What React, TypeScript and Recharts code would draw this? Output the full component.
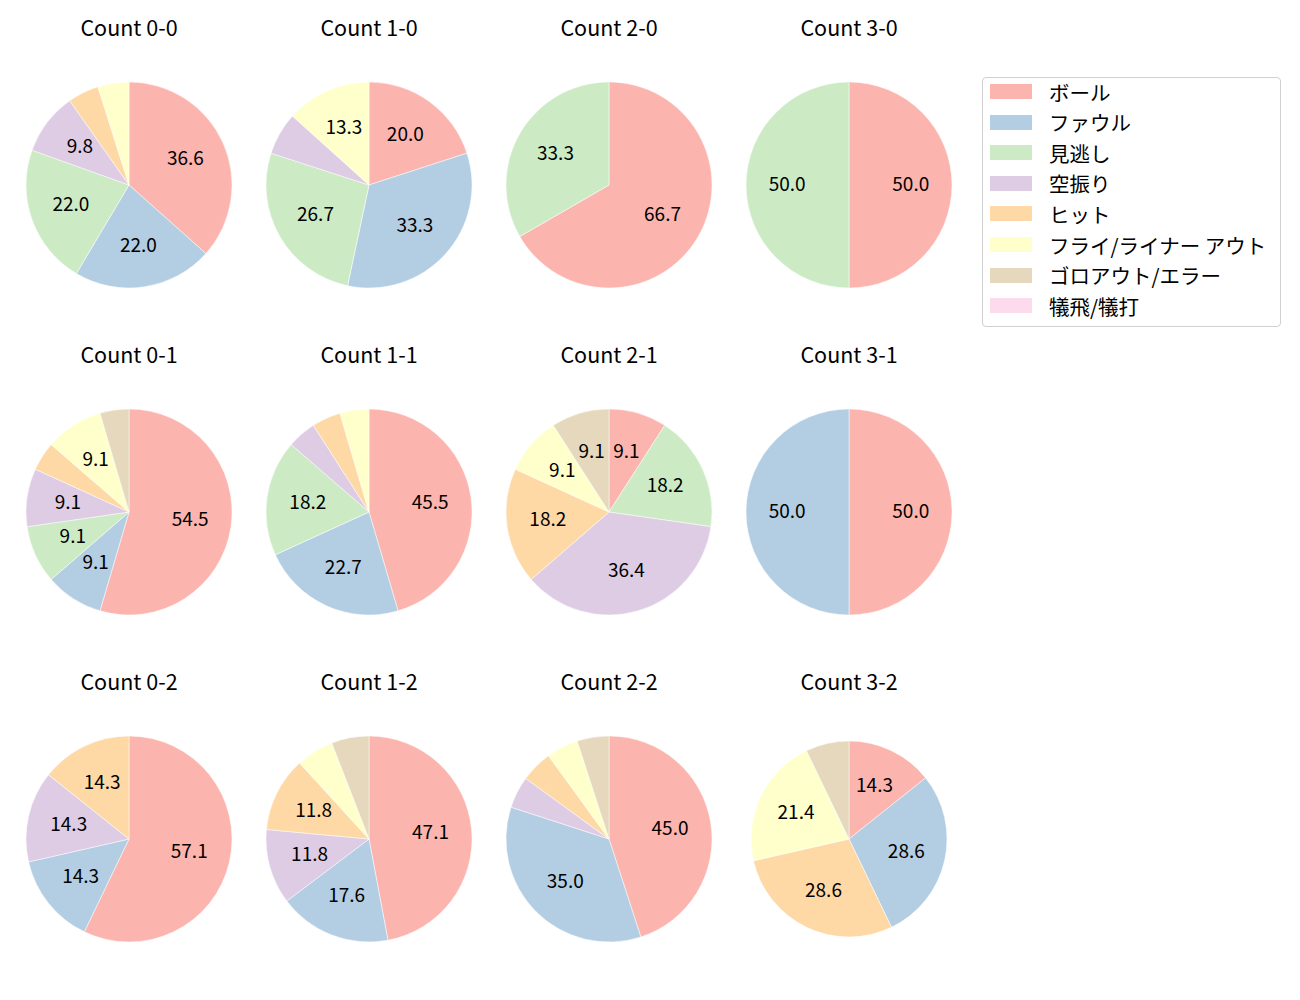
import React from 'react';
import { PieChart, Pie, Cell } from 'recharts';

const CATEGORIES = ['ボール', 'ファウル', '見逃し', '空振り', 'ヒット', 'フライ/ライナー アウト', 'ゴロアウト/エラー', '犠飛/犠打'];
const COLORS = ['#fbb4ae', '#b3cde3', '#ccebc5', '#decbe4', '#fed9a6', '#ffffcc', '#e5d8bd', '#fddaec'];

const TITLES = [
    'Count 0-0', 'Count 1-0', 'Count 2-0', 'Count 3-0',
    'Count 0-1', 'Count 1-1', 'Count 2-1', 'Count 3-1',
    'Count 0-2', 'Count 1-2', 'Count 2-2', 'Count 3-2',
];

// counts per category, same order as CATEGORIES
const count00 = [15, 9, 9, 4, 2, 2, 0, 0];
const count10 = [3, 5, 4, 1, 0, 2, 0, 0];
const count20 = [2, 0, 1, 0, 0, 0, 0, 0];
const count30 = [1, 0, 1, 0, 0, 0, 0, 0];
const count01 = [12, 2, 2, 2, 1, 2, 1, 0];
const count11 = [10, 5, 4, 1, 1, 1, 0, 0];
const count21 = [1, 0, 2, 4, 2, 1, 1, 0];
const count31 = [1, 1, 0, 0, 0, 0, 0, 0];
const count02 = [4, 1, 0, 1, 1, 0, 0, 0];
const count12 = [8, 3, 0, 2, 2, 1, 1, 0];
const count22 = [9, 7, 0, 1, 1, 1, 1, 0];
const count32 = [2, 4, 0, 0, 4, 3, 1, 0];

const SERIES = [count00, count10, count20, count30, count01, count11, count21, count31, count02, count12, count22, count32];

const FONT = '"Noto Sans CJK JP", "Noto Sans", sans-serif';
const COL_X = [129, 369, 609, 849];
const ROW_Y = [185, 512, 839];
const RADIUS = 103;
const RAD = Math.PI / 180;

const makeLabel = (total: number) => (props: any) => {
    const { cx, cy, midAngle, outerRadius, value } = props;
    const pct = (value / total) * 100;
    if (pct < 8) return null;
    const r = outerRadius * 0.6;
    const x = cx + r * Math.cos(-midAngle * RAD);
    const y = cy + r * Math.sin(-midAngle * RAD) - 3;
    return (
        <text x={x} y={y} fill="#000" fontSize={19} fontFamily={FONT} textAnchor="middle" dominantBaseline="central">
            {pct.toFixed(1)}
        </text>
    );
};

export default function App() {
    return (
        <div style={{ position: 'absolute', left: 0, top: 0, width: 1300, height: 1000, background: '#fff', fontFamily: FONT }}>
            <PieChart width={1300} height={1000} margin={{ top: 0, right: 0, bottom: 0, left: 0 }}>
                {SERIES.map((counts, i) => {
                    const data = counts
                        .map((v, k) => ({ name: CATEGORIES[k], value: v, color: COLORS[k] }))
                        .filter((d) => d.value > 0);
                    const total = counts.reduce((a, b) => a + b, 0);
                    return (
                        <Pie
                            key={TITLES[i]}
                            data={data}
                            dataKey="value"
                            nameKey="name"
                            cx={COL_X[i % 4]}
                            cy={ROW_Y[Math.floor(i / 4)]}
                            outerRadius={i === 11 ? 98 : RADIUS}
                            startAngle={90}
                            endAngle={-270}
                            stroke="#ffffff"
                            strokeWidth={0.5}
                            labelLine={false}
                            label={makeLabel(total)}
                            isAnimationActive={false}
                        >
                            {data.map((d) => (
                                <Cell key={d.name} fill={d.color} />
                            ))}
                        </Pie>
                    );
                })}
            </PieChart>
            {TITLES.map((t, i) => (
                <div
                    key={t}
                    style={{
                        position: 'absolute',
                        left: COL_X[i % 4] - 100,
                        top: ROW_Y[Math.floor(i / 4)] - 158 - 14,
                        width: 200,
                        height: 28,
                        lineHeight: '28px',
                        textAlign: 'center',
                        fontSize: 21.5,
                        color: '#000',
                    }}
                >
                    {t}
                </div>
            ))}
            <div
                style={{
                    position: 'absolute',
                    left: 982,
                    top: 77,
                    width: 297,
                    height: 248,
                    border: '1px solid #d0d0d0',
                    borderRadius: 4,
                }}
            >
                {CATEGORIES.map((c, k) => (
                    <div key={c} style={{ position: 'absolute', left: 0, top: 13.5 + k * 30.6 - 14, height: 28, display: 'flex', alignItems: 'center' }}>
                        <div style={{ width: 42, height: 15, background: COLORS[k], marginLeft: 7 }} />
                        <span style={{ marginLeft: 17, fontSize: 20.5, color: '#000', whiteSpace: 'nowrap' }}>{c}</span>
                    </div>
                ))}
            </div>
        </div>
    );
}
